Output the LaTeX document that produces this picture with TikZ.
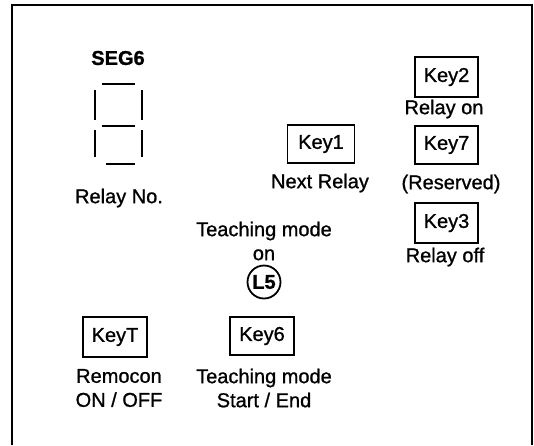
\documentclass[tikz,border=0pt]{standalone}
\usepackage{fontspec}
\setmainfont[FakeBold=1]{Liberation Sans}
\begin{document}
\begin{tikzpicture}[x=1pt,y=-1pt,
  keybox/.style={draw, line width=1.5pt, minimum width=64pt, minimum height=39pt, inner sep=0pt, font=\fontsize{20}{24}\selectfont},
  lbl/.style={font=\fontsize{20}{24}\selectfont, align=center, inner sep=0pt},
  seg/.style={line width=1.5pt},
  frame/.style={line width=2pt}]
\useasboundingbox (0,0) rectangle (534,445);
% frame (open at the bottom)
\coordinate (fbl) at (12,445);
\coordinate (ftl) at (12,5);
\coordinate (ftr) at (532,5);
\coordinate (fbr) at (532,445);
\draw[frame] (fbl) -- (ftl) -- (ftr) -- (fbr);
% SEG6 display
\node[lbl, font=\fontsize{20}{24}\selectfont\bfseries] (seg6) at (118,58) {SEG6};
\draw[seg] (102,84) -- (135,84);
\draw[seg] (102,126) -- (135,126);
\draw[seg] (106,164) -- (135,164);
\draw[seg] (95,90) -- (95,120);
\draw[seg] (142,90) -- (142,120);
\draw[seg] (95,130) -- (95,157);
\draw[seg] (142,130) -- (142,157);
\node[lbl] (relayno) at (119,198) {Relay No.};
% Key1
\node[keybox, minimum width=67pt, minimum height=38pt] (key1) at (321,144) {Key1};
\node[lbl] (nextrelay) at (320,183) {Next Relay};
% right column
\node[keybox, minimum width=63pt, minimum height=40pt] (key2) at (446.5,77) {Key2};
\node[lbl] (relayon) at (444,109) {Relay on};
\node[keybox, minimum width=63pt, minimum height=38pt] (key7) at (446.5,145) {Key7};
\node[lbl] (reserved) at (451,184) {(Reserved)};
\node[keybox, minimum width=63pt, minimum height=40pt] (key3) at (446.5,223) {Key3};
\node[lbl] (relayoff) at (445,257) {Relay off};
% teaching mode indicator
\node[lbl] (teachon) at (264,241) {Teaching mode\\on};
\node[draw, circle, line width=1.8pt, minimum size=33pt, inner sep=0pt, font=\fontsize{20}{22}\selectfont\bfseries] (l5) at (264,282) {L5};
% bottom keys
\node[keybox, minimum width=64pt, minimum height=40pt] (keyT) at (115,337) {KeyT};
\node[lbl] (remocon) at (119,388) {Remocon\\ON / OFF};
\node[keybox, minimum width=64pt, minimum height=38pt] (key6) at (262,336) {Key6};
\node[lbl] (teachse) at (264,388) {Teaching mode\\Start / End};
\end{tikzpicture}
\end{document}
